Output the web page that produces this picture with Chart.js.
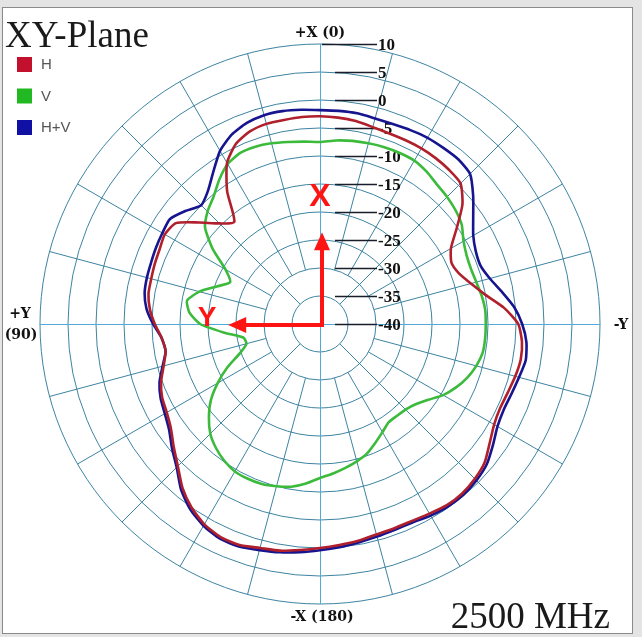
<!DOCTYPE html>
<html>
<head>
<meta charset="utf-8">
<script src="https://cdn.jsdelivr.net/npm/chart.js@4.4.1/dist/chart.umd.min.js"></script>
<style>
  html, body { margin: 0; padding: 0; background: #e4e4e4; }
</style>
</head>
<body>
<canvas id="polar" width="642" height="637"></canvas>
<script>
// angles in degrees, clockwise on screen from +X (top) towards -Y (right)
const angles = [0, 5, 10, 15, 20, 25, 30, 35, 40, 45, 50, 55, 60, 65, 70, 75, 80, 85,
  90, 95, 100, 105, 110, 115, 120, 125, 130, 135, 140, 145, 150, 155, 160, 165, 170, 175,
  180, 185, 190, 195, 200, 205, 210, 215, 220, 225, 230, 235, 240, 245, 250, 255, 260, 265,
  270, 275, 280, 285, 290, 295, 300, 305, 310, 315, 320, 325, 330, 335, 340, 345, 350, 355];

const tickValues = [10, 5, 0, -5, -10, -15, -20, -25, -30, -35, -40];

// dB values
const hData = [-2.9, -3.0, -3.2, -3.6, -3.8, -3.8, -3.8, -3.9, -4.1, -4.5,
  -6.8, -10.2, -13.0, -14.1, -13.6, -12.1, -10.0, -7.0, -4.6, -3.8,
  -3.6, -3.9, -4.3, -4.5, -4.1, -3.0, -1.6, -0.9, -0.5, -0.5,
  -0.9, -1.2, -1.2, -1.1, -0.7, -0.4, 0.0, 0.5, 1.1, 1.4,
  2.0, 2.0, 1.3, 0.0, -1.8, -4.1, -5.9, -7.5, -8.4, -8.9,
  -9.8, -11.1, -12.0, -11.6, -10.5, -9.5, -8.9, -8.8, -8.6, -8.4,
  -8.0, -8.6, -11.8, -14.6, -16.2, -11.1, -6.8, -4.5, -3.4, -3.0,
  -3.0, -2.9];

const vData = [-7.5, -7.1, -6.8, -6.6, -6.4, -6.3, -6.3, -6.8, -7.5, -7.9,
  -8.4, -9.1, -10.4, -11.1, -11.3, -11.1, -10.7, -10.4, -10.4, -10.4,
  -10.5, -11.1, -12.0, -13.2, -14.6, -16.4, -17.7, -18.4, -18.6, -18.6,
  -17.7, -16.6, -15.4, -14.6, -13.9, -13.2, -12.5, -11.4, -10.5, -10.0,
  -9.6, -9.5, -9.6, -10.2, -11.1, -12.3, -14.1, -16.2, -18.9, -21.8,
  -24.8, -26.4, -26.1, -22.7, -18.6, -16.6, -15.9, -17.7, -20.4, -22.3,
  -20.5, -16.6, -13.2, -11.6, -10.4, -8.6, -7.0, -6.3, -6.3, -6.6,
  -7.0, -7.3];

const hvData = [-1.8, -1.8, -1.8, -2.0, -2.0, -1.8, -1.6, -1.6, -1.6, -2.1,
  -4.3, -6.6, -8.4, -9.3, -9.5, -8.6, -7.0, -5.2, -3.9, -3.0,
  -2.7, -3.2, -3.6, -3.8, -3.4, -2.3, -1.1, -0.5, -0.2, -0.2,
  -0.5, -0.9, -0.9, -0.7, -0.4, 0.0, 0.4, 0.9, 1.4, 1.8,
  2.3, 2.3, 1.6, 0.4, -1.4, -3.8, -5.5, -7.1, -8.0, -8.6,
  -9.5, -10.9, -12.0, -11.6, -10.2, -8.9, -8.2, -8.0, -7.9, -7.7,
  -7.5, -7.3, -8.6, -10.0, -8.9, -6.8, -4.3, -2.7, -1.8, -1.4,
  -1.4, -1.6];

const gridColor = "#3d84a2";
const axisColor = "#52a8d8";

// the grid spokes, labels, legend and the red X/Y arrows
const decor = {
  id: "decor",
  beforeDraw(chart) {
    const ctx = chart.ctx;
    ctx.save();
    ctx.fillStyle = "#e4e4e4";
    ctx.fillRect(0, 0, chart.width, chart.height);
    ctx.fillStyle = "#ffffff";
    ctx.fillRect(3, 8, 629, 625);
    ctx.strokeStyle = "#8a8a8a";
    ctx.lineWidth = 1;
    ctx.strokeRect(2.5, 7.5, 630, 626);
    ctx.restore();
  },
  beforeDatasetsDraw(chart) {
    const ctx = chart.ctx;
    const r = chart.scales.r;
    const xc = r.xCenter, yc = r.yCenter;
    const outer = r.getDistanceFromCenterForValue(10);
    ctx.save();
    ctx.lineWidth = 1;
    // spokes every 15 degrees
    for (let deg = 0; deg < 360; deg += 15) {
      if (deg % 90 === 0) continue;
      const start = r.getDistanceFromCenterForValue(deg % 45 === 0 ? -35 : -30);
      const a = deg * Math.PI / 180;
      ctx.strokeStyle = gridColor;
      ctx.beginPath();
      ctx.moveTo(xc + start * Math.sin(a), yc - start * Math.cos(a));
      ctx.lineTo(xc + outer * Math.sin(a), yc - outer * Math.cos(a));
      ctx.stroke();
    }
    // main axes
    ctx.strokeStyle = axisColor;
    ctx.beginPath();
    ctx.moveTo(xc + 0.5, yc - outer);
    ctx.lineTo(xc + 0.5, yc + outer);
    ctx.moveTo(xc - outer, yc + 0.5);
    ctx.lineTo(xc + outer, yc + 0.5);
    ctx.stroke();

    // tick labels with leader lines
    ctx.font = 'bold 17px "Liberation Serif"';
    ctx.textBaseline = "middle";
    ctx.textAlign = "left";
    tickValues.forEach(v => {
      const y = Math.round(yc - r.getDistanceFromCenterForValue(v)) + 0.5;
      ctx.strokeStyle = "#1a1d2a";
      ctx.lineWidth = 1.3;
      ctx.beginPath();
      ctx.moveTo(xc + (v === 10 ? 2 : 15), y);
      ctx.lineTo(xc + 57, y);
      ctx.stroke();
      ctx.fillStyle = "#111";
      ctx.fillText(String(v), xc + 58, y + 1);
    });
    ctx.restore();
  },
  afterDraw(chart) {
    const ctx = chart.ctx;
    const r = chart.scales.r;
    const xc = r.xCenter, yc = r.yCenter;
    ctx.save();

    // red arrows
    const arrowLen = r.getDistanceFromCenterForValue(-23.6);
    ctx.strokeStyle = "#ff1414";
    ctx.fillStyle = "#ff1414";
    ctx.lineWidth = 4;
    ctx.beginPath();
    ctx.moveTo(xc + 2, yc + 2);
    ctx.lineTo(xc + 2, yc - arrowLen + 16);
    ctx.moveTo(xc + 4, yc + 1);
    ctx.lineTo(xc - arrowLen + 16, yc + 1);
    ctx.stroke();
    ctx.beginPath();
    ctx.moveTo(xc + 2, yc - arrowLen);
    ctx.lineTo(xc - 6, yc - arrowLen + 18);
    ctx.lineTo(xc + 10, yc - arrowLen + 18);
    ctx.closePath();
    ctx.fill();
    ctx.beginPath();
    ctx.moveTo(xc - arrowLen, yc + 1);
    ctx.lineTo(xc - arrowLen + 18, yc - 7);
    ctx.lineTo(xc - arrowLen + 18, yc + 9);
    ctx.closePath();
    ctx.fill();
    ctx.textAlign = "center";
    ctx.textBaseline = "middle";
    ctx.font = 'bold 32px "Liberation Sans"';
    ctx.fillText("X", xc, yc - 127);
    ctx.font = 'bold 28px "Liberation Sans"';
    ctx.fillText("Y", xc - 113, yc - 6);

    // axis direction labels
    ctx.fillStyle = "#111";
    ctx.font = 'bold 14px "DejaVu Serif"';
    ctx.fillText("+X (0)", xc, 33);
    ctx.fillText("-X (180)", xc + 2, 617);
    ctx.fillText("+Y", 20, 314);
    ctx.fillText("(90)", 21, 335);
    ctx.fillText("-Y", 621, 325);

    // title and frequency
    ctx.textBaseline = "alphabetic";
    ctx.textAlign = "left";
    ctx.fillStyle = "#1a1a1a";
    ctx.font = '37px "Liberation Serif"';
    ctx.fillText("XY-Plane", 5, 47);
    ctx.textAlign = "right";
    ctx.fillText("2500 MHz", 610, 628);

    // legend
    ctx.textAlign = "left";
    ctx.textBaseline = "middle";
    ctx.font = '15px "Liberation Sans"';
    chart.data.datasets.forEach((ds, i) => {
      const y = 64 + i * 31.5;
      ctx.fillStyle = ds.legendColor;
      ctx.fillRect(17, y - 7, 15, 15);
      ctx.fillStyle = "#555";
      ctx.fillText(ds.label, 41, y + 1);
    });
    ctx.restore();
  }
};

new Chart(document.getElementById("polar"), {
  type: "radar",
  data: {
    labels: angles.map(a => ((360 - a) % 360) + "°"),
    datasets: [
      { label: "H", data: hData, borderColor: "#b0202c", legendColor: "#c3102c" },
      { label: "V", data: vData, borderColor: "#3cba3c", legendColor: "#22b822" },
      { label: "H+V", data: hvData, borderColor: "#16148e", legendColor: "#1010a4" }
    ]
  },
  options: {
    responsive: false,
    animation: false,
    devicePixelRatio: 1,
    layout: { padding: { left: 40, top: 44, right: 42, bottom: 33 } },
    plugins: {
      legend: { display: false },
      tooltip: { enabled: false }
    },
    elements: {
      point: { radius: 0 },
      line: { tension: 0.2, borderWidth: 2.6, fill: false }
    },
    scales: {
      r: {
        min: -40,
        max: 10,
        ticks: { stepSize: 5, display: false },
        grid: { color: gridColor, lineWidth: 1, circular: true },
        angleLines: { display: false },
        pointLabels: { display: false }
      }
    }
  },
  plugins: [decor]
});
</script>
</body>
</html>
